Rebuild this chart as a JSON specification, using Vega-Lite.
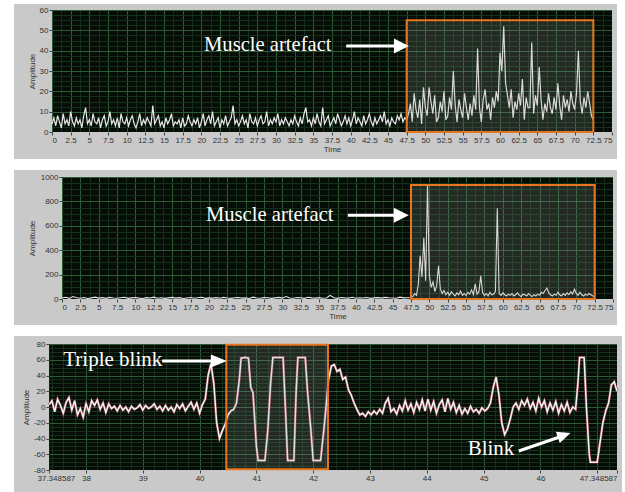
{
"$schema": "https://vega.github.io/schema/vega-lite/v6.json",
"background": "white",
"padding": {"left": 12, "top": 3, "right": 0, "bottom": 0},
"bounds": "full",
"spacing": 9,
"datasets": {
"top": [{"t":0,"a":4},{"t":0.25,"a":7},{"t":0.5,"a":3},{"t":0.75,"a":8},{"t":1,"a":5},{"t":1.25,"a":2},{"t":1.5,"a":9},{"t":1.75,"a":4},{"t":2,"a":6},{"t":2.25,"a":3},{"t":2.5,"a":10},{"t":2.75,"a":5},{"t":3,"a":3},{"t":3.25,"a":7},{"t":3.5,"a":4},{"t":3.75,"a":6},{"t":4,"a":2},{"t":4.25,"a":8},{"t":4.5,"a":12},{"t":4.75,"a":4},{"t":5,"a":6},{"t":5.25,"a":3},{"t":5.5,"a":9},{"t":5.75,"a":5},{"t":6,"a":4},{"t":6.25,"a":7},{"t":6.5,"a":2},{"t":6.75,"a":6},{"t":7,"a":8},{"t":7.25,"a":3},{"t":7.5,"a":5},{"t":7.75,"a":10},{"t":8,"a":4},{"t":8.25,"a":6},{"t":8.5,"a":3},{"t":8.75,"a":7},{"t":9,"a":2},{"t":9.25,"a":9},{"t":9.5,"a":5},{"t":9.75,"a":4},{"t":10,"a":7},{"t":10.25,"a":3},{"t":10.5,"a":6},{"t":10.75,"a":8},{"t":11,"a":4},{"t":11.25,"a":2},{"t":11.5,"a":5},{"t":11.75,"a":9},{"t":12,"a":3},{"t":12.25,"a":6},{"t":12.5,"a":4},{"t":12.75,"a":7},{"t":13,"a":5},{"t":13.25,"a":3},{"t":13.5,"a":13},{"t":13.75,"a":4},{"t":14,"a":6},{"t":14.25,"a":8},{"t":14.5,"a":3},{"t":14.75,"a":5},{"t":15,"a":2},{"t":15.25,"a":7},{"t":15.5,"a":4},{"t":15.75,"a":6},{"t":16,"a":9},{"t":16.25,"a":3},{"t":16.5,"a":5},{"t":16.75,"a":4},{"t":17,"a":6},{"t":17.25,"a":2},{"t":17.5,"a":7},{"t":17.75,"a":3},{"t":18,"a":4},{"t":18.25,"a":8},{"t":18.5,"a":5},{"t":18.75,"a":3},{"t":19,"a":6},{"t":19.25,"a":4},{"t":19.5,"a":7},{"t":19.75,"a":2},{"t":20,"a":5},{"t":20.25,"a":9},{"t":20.5,"a":3},{"t":20.75,"a":6},{"t":21,"a":8},{"t":21.25,"a":4},{"t":21.5,"a":10},{"t":21.75,"a":3},{"t":22,"a":5},{"t":22.25,"a":7},{"t":22.5,"a":2},{"t":22.75,"a":6},{"t":23,"a":4},{"t":23.25,"a":8},{"t":23.5,"a":3},{"t":23.75,"a":5},{"t":24,"a":7},{"t":24.25,"a":13},{"t":24.5,"a":4},{"t":24.75,"a":6},{"t":25,"a":3},{"t":25.25,"a":5},{"t":25.5,"a":8},{"t":25.75,"a":4},{"t":26,"a":6},{"t":26.25,"a":2},{"t":26.5,"a":9},{"t":26.75,"a":5},{"t":27,"a":4},{"t":27.25,"a":7},{"t":27.5,"a":3},{"t":27.75,"a":6},{"t":28,"a":8},{"t":28.25,"a":4},{"t":28.5,"a":5},{"t":28.75,"a":10},{"t":29,"a":3},{"t":29.25,"a":6},{"t":29.5,"a":4},{"t":29.75,"a":7},{"t":30,"a":5},{"t":30.25,"a":9},{"t":30.5,"a":3},{"t":30.75,"a":6},{"t":31,"a":4},{"t":31.25,"a":7},{"t":31.5,"a":5},{"t":31.75,"a":3},{"t":32,"a":6},{"t":32.25,"a":4},{"t":32.5,"a":8},{"t":32.75,"a":5},{"t":33,"a":3},{"t":33.25,"a":7},{"t":33.5,"a":4},{"t":33.75,"a":9},{"t":34,"a":12},{"t":34.25,"a":5},{"t":34.5,"a":6},{"t":34.75,"a":3},{"t":35,"a":7},{"t":35.25,"a":4},{"t":35.5,"a":9},{"t":35.75,"a":5},{"t":36,"a":3},{"t":36.25,"a":12},{"t":36.5,"a":4},{"t":36.75,"a":6},{"t":37,"a":8},{"t":37.25,"a":3},{"t":37.5,"a":5},{"t":37.75,"a":7},{"t":38,"a":4},{"t":38.25,"a":9},{"t":38.5,"a":6},{"t":38.75,"a":3},{"t":39,"a":5},{"t":39.25,"a":8},{"t":39.5,"a":4},{"t":39.75,"a":7},{"t":40,"a":3},{"t":40.25,"a":6},{"t":40.5,"a":10},{"t":40.75,"a":4},{"t":41,"a":7},{"t":41.25,"a":5},{"t":41.5,"a":3},{"t":41.75,"a":8},{"t":42,"a":4},{"t":42.25,"a":6},{"t":42.5,"a":9},{"t":42.75,"a":5},{"t":43,"a":3},{"t":43.25,"a":7},{"t":43.5,"a":4},{"t":43.75,"a":6},{"t":44,"a":8},{"t":44.25,"a":5},{"t":44.5,"a":10},{"t":44.75,"a":4},{"t":45,"a":6},{"t":45.25,"a":3},{"t":45.5,"a":7},{"t":45.75,"a":5},{"t":46,"a":4},{"t":46.25,"a":8},{"t":46.5,"a":6},{"t":46.75,"a":9},{"t":47,"a":5},{"t":47.25,"a":7},{"t":47.5,"a":6},{"t":47.75,"a":9},{"t":48,"a":14},{"t":48.25,"a":5},{"t":48.5,"a":19},{"t":48.75,"a":11},{"t":49,"a":7},{"t":49.25,"a":16},{"t":49.5,"a":4},{"t":49.75,"a":22},{"t":50,"a":12},{"t":50.25,"a":8},{"t":50.5,"a":22},{"t":50.75,"a":15},{"t":51,"a":9},{"t":51.25,"a":18},{"t":51.5,"a":5},{"t":51.75,"a":7},{"t":52,"a":15},{"t":52.25,"a":10},{"t":52.5,"a":20},{"t":52.75,"a":6},{"t":53,"a":8},{"t":53.25,"a":17},{"t":53.5,"a":11},{"t":53.75,"a":30},{"t":54,"a":13},{"t":54.25,"a":5},{"t":54.5,"a":16},{"t":54.75,"a":11},{"t":55,"a":7},{"t":55.25,"a":19},{"t":55.5,"a":12},{"t":55.75,"a":6},{"t":56,"a":14},{"t":56.25,"a":8},{"t":56.5,"a":18},{"t":56.75,"a":11},{"t":57,"a":41},{"t":57.25,"a":12},{"t":57.5,"a":5},{"t":57.75,"a":16},{"t":58,"a":21},{"t":58.25,"a":11},{"t":58.5,"a":14},{"t":58.75,"a":6},{"t":59,"a":17},{"t":59.25,"a":12},{"t":59.5,"a":20},{"t":59.75,"a":15},{"t":60,"a":39},{"t":60.25,"a":30},{"t":60.5,"a":52},{"t":60.75,"a":24},{"t":61,"a":18},{"t":61.25,"a":12},{"t":61.5,"a":21},{"t":61.75,"a":7},{"t":62,"a":15},{"t":62.25,"a":11},{"t":62.5,"a":19},{"t":62.75,"a":13},{"t":63,"a":26},{"t":63.25,"a":6},{"t":63.5,"a":17},{"t":63.75,"a":12},{"t":64,"a":12},{"t":64.25,"a":44},{"t":64.5,"a":9},{"t":64.75,"a":18},{"t":65,"a":13},{"t":65.25,"a":32},{"t":65.5,"a":16},{"t":65.75,"a":6},{"t":66,"a":14},{"t":66.25,"a":10},{"t":66.5,"a":19},{"t":66.75,"a":12},{"t":67,"a":9},{"t":67.25,"a":17},{"t":67.5,"a":11},{"t":67.75,"a":24},{"t":68,"a":13},{"t":68.25,"a":6},{"t":68.5,"a":18},{"t":68.75,"a":12},{"t":69,"a":16},{"t":69.25,"a":10},{"t":69.5,"a":20},{"t":69.75,"a":14},{"t":70,"a":11},{"t":70.25,"a":19},{"t":70.5,"a":40},{"t":70.75,"a":15},{"t":71,"a":9},{"t":71.25,"a":17},{"t":71.5,"a":12},{"t":71.75,"a":20},{"t":72,"a":14},{"t":72.25,"a":8},{"t":72.5,"a":6}],
"mid": [{"t":0,"a":8},{"t":0.5,"a":14},{"t":1,"a":5},{"t":1.5,"a":20},{"t":2,"a":10},{"t":2.5,"a":6},{"t":3,"a":12},{"t":3.5,"a":4},{"t":4,"a":9},{"t":4.5,"a":15},{"t":5,"a":7},{"t":5.5,"a":11},{"t":6,"a":5},{"t":6.5,"a":13},{"t":7,"a":8},{"t":7.5,"a":6},{"t":8,"a":10},{"t":8.5,"a":14},{"t":9,"a":5},{"t":9.5,"a":9},{"t":10,"a":12},{"t":10.5,"a":7},{"t":11,"a":4},{"t":11.5,"a":11},{"t":12,"a":8},{"t":12.5,"a":15},{"t":13,"a":6},{"t":13.5,"a":10},{"t":14,"a":5},{"t":14.5,"a":9},{"t":15,"a":13},{"t":15.5,"a":7},{"t":16,"a":11},{"t":16.5,"a":4},{"t":17,"a":8},{"t":17.5,"a":12},{"t":18,"a":6},{"t":18.5,"a":10},{"t":19,"a":14},{"t":19.5,"a":5},{"t":20,"a":9},{"t":20.5,"a":7},{"t":21,"a":11},{"t":21.5,"a":6},{"t":22,"a":13},{"t":22.5,"a":8},{"t":23,"a":5},{"t":23.5,"a":10},{"t":24,"a":12},{"t":24.5,"a":7},{"t":25,"a":9},{"t":25.5,"a":4},{"t":26,"a":15},{"t":26.5,"a":8},{"t":27,"a":6},{"t":27.5,"a":11},{"t":28,"a":10},{"t":28.5,"a":5},{"t":29,"a":9},{"t":29.5,"a":13},{"t":30,"a":7},{"t":30.5,"a":20},{"t":31,"a":8},{"t":31.5,"a":6},{"t":32,"a":12},{"t":32.5,"a":10},{"t":33,"a":5},{"t":33.5,"a":14},{"t":34,"a":9},{"t":34.5,"a":7},{"t":35,"a":11},{"t":35.5,"a":6},{"t":36,"a":8},{"t":36.5,"a":30},{"t":37,"a":10},{"t":37.5,"a":5},{"t":38,"a":12},{"t":38.5,"a":9},{"t":39,"a":7},{"t":39.5,"a":14},{"t":40,"a":6},{"t":40.5,"a":10},{"t":41,"a":8},{"t":41.5,"a":12},{"t":42,"a":5},{"t":42.5,"a":9},{"t":43,"a":11},{"t":43.5,"a":7},{"t":44,"a":13},{"t":44.5,"a":10},{"t":45,"a":8},{"t":45.5,"a":6},{"t":46,"a":15},{"t":46.5,"a":9},{"t":47,"a":10},{"t":47.5,"a":12},{"t":47.75,"a":20},{"t":48,"a":45},{"t":48.25,"a":30},{"t":48.5,"a":120},{"t":48.75,"a":355},{"t":49,"a":180},{"t":49.25,"a":504},{"t":49.5,"a":150},{"t":49.75,"a":934},{"t":50,"a":190},{"t":50.25,"a":95},{"t":50.5,"a":140},{"t":50.75,"a":60},{"t":51,"a":110},{"t":51.25,"a":273},{"t":51.5,"a":80},{"t":51.75,"a":45},{"t":52,"a":70},{"t":52.25,"a":35},{"t":52.5,"a":55},{"t":52.75,"a":30},{"t":53,"a":60},{"t":53.25,"a":40},{"t":53.5,"a":25},{"t":53.75,"a":50},{"t":54,"a":35},{"t":54.25,"a":65},{"t":54.5,"a":30},{"t":54.75,"a":45},{"t":55,"a":28},{"t":55.25,"a":55},{"t":55.5,"a":40},{"t":55.75,"a":75},{"t":56,"a":35},{"t":56.25,"a":124},{"t":56.5,"a":40},{"t":56.75,"a":60},{"t":57,"a":190},{"t":57.25,"a":50},{"t":57.5,"a":30},{"t":57.75,"a":45},{"t":58,"a":25},{"t":58.25,"a":55},{"t":58.5,"a":35},{"t":58.75,"a":40},{"t":59,"a":60},{"t":59.25,"a":744},{"t":59.5,"a":45},{"t":59.75,"a":30},{"t":60,"a":50},{"t":60.25,"a":35},{"t":60.5,"a":25},{"t":60.75,"a":40},{"t":61,"a":30},{"t":61.25,"a":45},{"t":61.5,"a":25},{"t":61.75,"a":35},{"t":62,"a":50},{"t":62.25,"a":30},{"t":62.5,"a":20},{"t":62.75,"a":40},{"t":63,"a":35},{"t":63.25,"a":25},{"t":63.5,"a":45},{"t":63.75,"a":30},{"t":64,"a":20},{"t":64.25,"a":35},{"t":64.5,"a":25},{"t":64.75,"a":40},{"t":65,"a":30},{"t":65.25,"a":55},{"t":65.5,"a":45},{"t":65.75,"a":70},{"t":66,"a":90},{"t":66.25,"a":50},{"t":66.5,"a":35},{"t":66.75,"a":25},{"t":67,"a":40},{"t":67.25,"a":30},{"t":67.5,"a":55},{"t":67.75,"a":35},{"t":68,"a":25},{"t":68.25,"a":45},{"t":68.5,"a":30},{"t":68.75,"a":50},{"t":69,"a":35},{"t":69.25,"a":60},{"t":69.5,"a":40},{"t":69.75,"a":80},{"t":70,"a":45},{"t":70.25,"a":30},{"t":70.5,"a":55},{"t":70.75,"a":35},{"t":71,"a":25},{"t":71.25,"a":40},{"t":71.5,"a":30},{"t":71.75,"a":45},{"t":72,"a":35},{"t":72.25,"a":25},{"t":72.5,"a":20}],
"eog": [{"t":37.348587,"a":3},{"t":37.4,"a":8},{"t":37.45,"a":-6},{"t":37.5,"a":10},{"t":37.55,"a":2},{"t":37.6,"a":-8},{"t":37.65,"a":6},{"t":37.7,"a":12},{"t":37.75,"a":-4},{"t":37.8,"a":8},{"t":37.85,"a":-10},{"t":37.9,"a":-2},{"t":37.95,"a":-13},{"t":38,"a":4},{"t":38.05,"a":-6},{"t":38.1,"a":8},{"t":38.15,"a":2},{"t":38.2,"a":9},{"t":38.25,"a":-3},{"t":38.3,"a":5},{"t":38.35,"a":-7},{"t":38.4,"a":4},{"t":38.45,"a":-2},{"t":38.5,"a":1},{"t":38.55,"a":-5},{"t":38.6,"a":2},{"t":38.65,"a":-4},{"t":38.7,"a":0},{"t":38.75,"a":-6},{"t":38.8,"a":1},{"t":38.85,"a":-3},{"t":38.9,"a":-1},{"t":38.95,"a":3},{"t":39,"a":-4},{"t":39.05,"a":2},{"t":39.1,"a":-2},{"t":39.15,"a":0},{"t":39.2,"a":4},{"t":39.25,"a":-3},{"t":39.3,"a":1},{"t":39.35,"a":-5},{"t":39.4,"a":2},{"t":39.45,"a":-4},{"t":39.5,"a":0},{"t":39.55,"a":-6},{"t":39.6,"a":3},{"t":39.65,"a":-2},{"t":39.7,"a":4},{"t":39.75,"a":-5},{"t":39.8,"a":1},{"t":39.85,"a":6},{"t":39.9,"a":-3},{"t":39.95,"a":5},{"t":40,"a":-8},{"t":40.05,"a":3},{"t":40.1,"a":10},{"t":40.15,"a":40},{"t":40.2,"a":55},{"t":40.25,"a":30},{"t":40.3,"a":-20},{"t":40.35,"a":-40},{"t":40.4,"a":-30},{"t":40.45,"a":-22},{"t":40.5,"a":-10},{"t":40.55,"a":-5},{"t":40.6,"a":-3},{"t":40.65,"a":5},{"t":40.7,"a":35},{"t":40.73,"a":62},{"t":40.8,"a":63},{"t":40.86,"a":62},{"t":40.9,"a":25},{"t":40.94,"a":18},{"t":41,"a":-50},{"t":41.03,"a":-68},{"t":41.15,"a":-68},{"t":41.2,"a":-30},{"t":41.25,"a":30},{"t":41.29,"a":63},{"t":41.47,"a":63},{"t":41.51,"a":0},{"t":41.55,"a":-68},{"t":41.66,"a":-68},{"t":41.7,"a":20},{"t":41.73,"a":63},{"t":41.86,"a":63},{"t":41.9,"a":20},{"t":41.96,"a":-30},{"t":42,"a":-68},{"t":42.13,"a":-68},{"t":42.2,"a":-20},{"t":42.27,"a":35},{"t":42.32,"a":52},{"t":42.37,"a":54},{"t":42.42,"a":45},{"t":42.47,"a":48},{"t":42.52,"a":35},{"t":42.57,"a":38},{"t":42.62,"a":22},{"t":42.67,"a":15},{"t":42.72,"a":5},{"t":42.77,"a":-3},{"t":42.82,"a":-10},{"t":42.87,"a":-8},{"t":42.92,"a":-12},{"t":42.97,"a":-6},{"t":43.02,"a":-10},{"t":43.07,"a":-5},{"t":43.12,"a":-9},{"t":43.17,"a":-3},{"t":43.22,"a":-8},{"t":43.27,"a":5},{"t":43.32,"a":11},{"t":43.37,"a":-6},{"t":43.42,"a":-2},{"t":43.47,"a":-9},{"t":43.52,"a":2},{"t":43.57,"a":-5},{"t":43.62,"a":8},{"t":43.67,"a":-4},{"t":43.72,"a":4},{"t":43.77,"a":-7},{"t":43.82,"a":6},{"t":43.87,"a":-3},{"t":43.92,"a":9},{"t":43.97,"a":-5},{"t":44.02,"a":10},{"t":44.07,"a":-4},{"t":44.12,"a":7},{"t":44.17,"a":-8},{"t":44.22,"a":3},{"t":44.27,"a":9},{"t":44.32,"a":-6},{"t":44.37,"a":11},{"t":44.42,"a":-3},{"t":44.47,"a":6},{"t":44.52,"a":-7},{"t":44.57,"a":2},{"t":44.62,"a":-9},{"t":44.67,"a":-2},{"t":44.72,"a":-8},{"t":44.77,"a":1},{"t":44.82,"a":-6},{"t":44.87,"a":-3},{"t":44.92,"a":-8},{"t":44.97,"a":-1},{"t":45.02,"a":-5},{"t":45.07,"a":-2},{"t":45.12,"a":5},{"t":45.17,"a":25},{"t":45.22,"a":38},{"t":45.27,"a":15},{"t":45.32,"a":-20},{"t":45.37,"a":-35},{"t":45.42,"a":-28},{"t":45.47,"a":-15},{"t":45.52,"a":0},{"t":45.57,"a":5},{"t":45.62,"a":-3},{"t":45.67,"a":8},{"t":45.72,"a":2},{"t":45.77,"a":10},{"t":45.82,"a":-2},{"t":45.87,"a":6},{"t":45.92,"a":-5},{"t":45.97,"a":11},{"t":46.02,"a":0},{"t":46.07,"a":8},{"t":46.12,"a":-6},{"t":46.17,"a":5},{"t":46.22,"a":-4},{"t":46.27,"a":7},{"t":46.32,"a":-8},{"t":46.37,"a":3},{"t":46.42,"a":-5},{"t":46.47,"a":6},{"t":46.52,"a":-7},{"t":46.57,"a":0},{"t":46.62,"a":-3},{"t":46.66,"a":30},{"t":46.69,"a":63},{"t":46.77,"a":63},{"t":46.81,"a":0},{"t":46.86,"a":-60},{"t":46.88,"a":-70},{"t":47,"a":-70},{"t":47.05,"a":-45},{"t":47.1,"a":-20},{"t":47.15,"a":-5},{"t":47.2,"a":5},{"t":47.25,"a":28},{"t":47.3,"a":32},{"t":47.348587,"a":20}]
},
"vconcat": [
{"spacing": 0, "hconcat": [
{"width": 1, "height": 1, "data": {"values": [{}]}, "mark": {"type": "point", "size": 0, "opacity": 0}, "view": {"fill": null, "stroke": null}},
{
"width": 560, "height": 122,
"resolve": {"axis": {"x": "independent", "y": "independent"}},
"layer": [
{"data": {"values": [{}]}, "mark": {"type": "rect", "color": "#c9c9c9"},
 "encoding": {
  "x": {"datum": -5.09, "type": "quantitative", "scale": {"domain": [0, 75], "nice": false, "zero": false},
        "axis": {"orient": "bottom", "zindex": 1, "grid": false, "values": [0,2.5,5,7.5,10,12.5,15,17.5,20,22.5,25,27.5,30,32.5,35,37.5,40,42.5,45,47.5,50,52.5,55,57.5,60,62.5,65,67.5,70,72.5,75], "labelExpr": "datum.value + ''", "labelOverlap": false, "title": "Time", "titlePadding": 1}},
  "x2": {"datum": 0},
  "y": {"datum": -13.28, "type": "quantitative", "scale": {"domain": [0, 60], "nice": false, "zero": false},
        "axis": {"orient": "left", "zindex": 1, "grid": false, "values": [0,10,20,30,40,50,60], "labelExpr": "datum.value + ''", "labelOverlap": false, "title": "Amplitude", "titlePadding": 3}},
  "y2": {"datum": 62.95}}},
{"data": {"values": [{}]}, "mark": {"type": "rect", "color": "#c9c9c9"},
 "encoding": {"x": {"datum": 75, "type": "quantitative", "axis": null}, "x2": {"datum": 75.67}, "y": {"datum": -13.28, "type": "quantitative", "axis": null}, "y2": {"datum": 62.95}}},
{"data": {"values": [{}]}, "mark": {"type": "rect", "color": "#c9c9c9"},
 "encoding": {"x": {"datum": 0, "type": "quantitative", "axis": null}, "x2": {"datum": 75}, "y": {"datum": 60, "type": "quantitative", "axis": null}, "y2": {"datum": 62.95}}},
{"data": {"values": [{}]}, "mark": {"type": "rect", "color": "#c9c9c9"},
 "encoding": {"x": {"datum": 0, "type": "quantitative", "axis": null}, "x2": {"datum": 75}, "y": {"datum": -13.28, "type": "quantitative", "axis": null}, "y2": {"datum": 0}}},
{"data": {"name": "top"}, "mark": {"type": "line", "color": "#e8e8e8", "strokeWidth": 1.2},
 "encoding": {
  "x": {"field": "t", "type": "quantitative",
        "axis": {"orient": "bottom", "zindex": 0, "grid": true, "labels": false, "ticks": false, "domain": false, "title": null, "gridWidth": 1,
                 "values": [0,1.25,2.5,3.75,5,6.25,7.5,8.75,10,11.25,12.5,13.75,15,16.25,17.5,18.75,20,21.25,22.5,23.75,25,26.25,27.5,28.75,30,31.25,32.5,33.75,35,36.25,37.5,38.75,40,41.25,42.5,43.75,45,46.25,47.5,48.75,50,51.25,52.5,53.75,55,56.25,57.5,58.75,60,61.25,62.5,63.75,65,66.25,67.5,68.75,70,71.25,72.5,73.75,75],
                 "gridColor": {"condition": {"test": "datum.value % 2.5 === 0", "value": "#2f5a36"}, "value": "#15301a"}}},
  "y": {"field": "a", "type": "quantitative",
        "axis": {"orient": "left", "zindex": 0, "grid": true, "labels": false, "ticks": false, "domain": false, "title": null, "gridWidth": 1,
                 "values": [0,2.5,5,7.5,10,12.5,15,17.5,20,22.5,25,27.5,30,32.5,35,37.5,40,42.5,45,47.5,50,52.5,55,57.5,60],
                 "gridColor": {"condition": {"test": "datum.value % 10 === 0", "value": "#2f5a36"}, "value": "#15301a"}}}}},
{"data": {"values": [{}]}, "mark": {"type": "rect", "fill": "#9a9a9a", "fillOpacity": 0.2, "stroke": "#e8761e", "strokeWidth": 2},
 "encoding": {"x": {"datum": 47.5, "type": "quantitative", "axis": null}, "x2": {"datum": 72.5}, "y": {"datum": 0, "type": "quantitative", "axis": null}, "y2": {"datum": 55}}},
{"data": {"values": [{}]}, "mark": {"type": "text", "text": "Muscle artefact", "font": "Liberation Serif", "fontSize": 20.6, "fill": "white", "align": "left", "baseline": "middle"},
 "encoding": {"x": {"datum": 20.36, "type": "quantitative", "axis": null}, "y": {"datum": 42.6, "type": "quantitative", "axis": null}}},
{"data": {"values": [{}]}, "mark": {"type": "rule", "color": "white", "strokeWidth": 3},
 "encoding": {"x": {"datum": 39.4, "type": "quantitative", "axis": null}, "x2": {"datum": 47.2}, "y": {"datum": 42.3, "type": "quantitative", "axis": null}, "y2": {"datum": 42.3}}},
{"data": {"values": [{}]}, "mark": {"type": "point", "shape": "M0,0L-2,-1L-2,1Z", "filled": true, "size": 225, "color": "white", "opacity": 1},
 "encoding": {"x": {"datum": 47.8, "type": "quantitative", "axis": null}, "y": {"datum": 42.3, "type": "quantitative", "axis": null}}}
]
}]},
{"spacing": 0, "hconcat": [
{"width": 1, "height": 1, "data": {"values": [{}]}, "mark": {"type": "point", "size": 0, "opacity": 0}, "view": {"fill": null, "stroke": null}},
{
"width": 551, "height": 122,
"resolve": {"axis": {"x": "independent", "y": "independent"}},
"layer": [
{"data": {"values": [{}]}, "mark": {"type": "rect", "color": "#c9c9c9"},
 "encoding": {
  "x": {"datum": -6.53, "type": "quantitative", "scale": {"domain": [0, 75], "nice": false, "zero": false},
        "axis": {"orient": "bottom", "zindex": 1, "grid": false, "values": [0,2.5,5,7.5,10,12.5,15,17.5,20,22.5,25,27.5,30,32.5,35,37.5,40,42.5,45,47.5,50,52.5,55,57.5,60,62.5,65,67.5,70,72.5,75], "labelExpr": "datum.value + ''", "labelOverlap": false, "title": "Time", "titlePadding": 1}},
  "x2": {"datum": 0},
  "y": {"datum": -213, "type": "quantitative", "scale": {"domain": [0, 1000], "nice": false, "zero": false},
        "axis": {"orient": "left", "zindex": 1, "grid": false, "values": [0,200,400,600,800,1000], "labelExpr": "datum.value + ''", "labelOverlap": false, "title": "Amplitude", "titlePadding": 4}},
  "y2": {"datum": 1057}}},
{"data": {"values": [{}]}, "mark": {"type": "rect", "color": "#c9c9c9"},
 "encoding": {"x": {"datum": 75, "type": "quantitative", "axis": null}, "x2": {"datum": 75.54}, "y": {"datum": -213, "type": "quantitative", "axis": null}, "y2": {"datum": 1057}}},
{"data": {"values": [{}]}, "mark": {"type": "rect", "color": "#c9c9c9"},
 "encoding": {"x": {"datum": 0, "type": "quantitative", "axis": null}, "x2": {"datum": 75}, "y": {"datum": 1000, "type": "quantitative", "axis": null}, "y2": {"datum": 1057}}},
{"data": {"values": [{}]}, "mark": {"type": "rect", "color": "#c9c9c9"},
 "encoding": {"x": {"datum": 0, "type": "quantitative", "axis": null}, "x2": {"datum": 75}, "y": {"datum": -213, "type": "quantitative", "axis": null}, "y2": {"datum": 0}}},
{"data": {"name": "mid"}, "mark": {"type": "line", "color": "#e8e8e8", "strokeWidth": 1.1},
 "encoding": {
  "x": {"field": "t", "type": "quantitative",
        "axis": {"orient": "bottom", "zindex": 0, "grid": true, "labels": false, "ticks": false, "domain": false, "title": null, "gridWidth": 1,
                 "values": [0,1.25,2.5,3.75,5,6.25,7.5,8.75,10,11.25,12.5,13.75,15,16.25,17.5,18.75,20,21.25,22.5,23.75,25,26.25,27.5,28.75,30,31.25,32.5,33.75,35,36.25,37.5,38.75,40,41.25,42.5,43.75,45,46.25,47.5,48.75,50,51.25,52.5,53.75,55,56.25,57.5,58.75,60,61.25,62.5,63.75,65,66.25,67.5,68.75,70,71.25,72.5,73.75,75],
                 "gridColor": {"condition": {"test": "datum.value % 2.5 === 0", "value": "#2f5a36"}, "value": "#15301a"}}},
  "y": {"field": "a", "type": "quantitative",
        "axis": {"orient": "left", "zindex": 0, "grid": true, "labels": false, "ticks": false, "domain": false, "title": null, "gridWidth": 1,
                 "values": [0,50,100,150,200,250,300,350,400,450,500,550,600,650,700,750,800,850,900,950,1000],
                 "gridColor": {"condition": {"test": "datum.value % 200 === 0", "value": "#2f5a36"}, "value": "#15301a"}}}}},
{"data": {"values": [{}]}, "mark": {"type": "rect", "fill": "#9a9a9a", "fillOpacity": 0.2, "stroke": "#e8761e", "strokeWidth": 2},
 "encoding": {"x": {"datum": 47.5, "type": "quantitative", "axis": null}, "x2": {"datum": 72.5}, "y": {"datum": 0, "type": "quantitative", "axis": null}, "y2": {"datum": 934}}},
{"data": {"values": [{}]}, "mark": {"type": "text", "text": "Muscle artefact", "font": "Liberation Serif", "fontSize": 20.6, "fill": "white", "align": "left", "baseline": "middle"},
 "encoding": {"x": {"datum": 19.6, "type": "quantitative", "axis": null}, "y": {"datum": 690, "type": "quantitative", "axis": null}}},
{"data": {"values": [{}]}, "mark": {"type": "rule", "color": "white", "strokeWidth": 3},
 "encoding": {"x": {"datum": 38.9, "type": "quantitative", "axis": null}, "x2": {"datum": 46.6}, "y": {"datum": 686, "type": "quantitative", "axis": null}, "y2": {"datum": 686}}},
{"data": {"values": [{}]}, "mark": {"type": "point", "shape": "M0,0L-2,-1L-2,1Z", "filled": true, "size": 225, "color": "white", "opacity": 1},
 "encoding": {"x": {"datum": 47.2, "type": "quantitative", "axis": null}, "y": {"datum": 686, "type": "quantitative", "axis": null}}}
]
}]},
{"spacing": 0, "hconcat": [
{"width": 1, "height": 1, "data": {"values": [{}]}, "mark": {"type": "point", "size": 0, "opacity": 0}, "view": {"fill": null, "stroke": null}},
{
"width": 568, "height": 126,
"resolve": {"axis": {"x": "independent", "y": "independent"}},
"layer": [
{"data": {"values": [{}]}, "mark": {"type": "rect", "color": "#c9c9c9"},
 "encoding": {
  "x": {"datum": 36.7326, "type": "quantitative", "scale": {"domain": [37.348587, 47.348587], "nice": false, "zero": false},
        "axis": {"orient": "bottom", "zindex": 1, "grid": false, "values": [37.348587,38,39,40,41,42,43,44,45,46,47,47.348587], "labelExpr": "datum.value == 47 ? '' : datum.value + ''", "labelOverlap": false, "title": null,
                 "labelOffset": {"condition": {"test": "datum.value < 37.5", "value": -12}, "value": 0}}},
  "x2": {"datum": 37.348587},
  "y": {"datum": -112, "type": "quantitative", "scale": {"domain": [-80, 80], "nice": false, "zero": false},
        "axis": {"orient": "left", "zindex": 1, "grid": false, "values": [-80,-60,-40,-20,0,20,40,60,80], "labelExpr": "datum.value + ''", "labelOverlap": false, "title": "Amplitude", "titlePadding": 3}},
  "y2": {"datum": 90.16}}},
{"data": {"values": [{}]}, "mark": {"type": "rect", "color": "#c9c9c9"},
 "encoding": {"x": {"datum": 47.348587, "type": "quantitative", "axis": null}, "x2": {"datum": 47.4366}, "y": {"datum": -112, "type": "quantitative", "axis": null}, "y2": {"datum": 90.16}}},
{"data": {"values": [{}]}, "mark": {"type": "rect", "color": "#c9c9c9"},
 "encoding": {"x": {"datum": 37.348587, "type": "quantitative", "axis": null}, "x2": {"datum": 47.348587}, "y": {"datum": 80, "type": "quantitative", "axis": null}, "y2": {"datum": 90.16}}},
{"data": {"values": [{}]}, "mark": {"type": "rect", "color": "#c9c9c9"},
 "encoding": {"x": {"datum": 37.348587, "type": "quantitative", "axis": null}, "x2": {"datum": 47.348587}, "y": {"datum": -112, "type": "quantitative", "axis": null}, "y2": {"datum": -80}}},
{"data": {"name": "eog"}, "mark": {"type": "line", "color": "#8a3a4a", "strokeWidth": 2.6},
 "encoding": {
  "x": {"field": "t", "type": "quantitative",
        "axis": {"orient": "bottom", "zindex": 0, "grid": true, "labels": false, "ticks": false, "domain": false, "title": null, "gridWidth": 1,
                 "values": [37.4,37.6,37.8,38,38.2,38.4,38.6,38.8,39,39.2,39.4,39.6,39.8,40,40.2,40.4,40.6,40.8,41,41.2,41.4,41.6,41.8,42,42.2,42.4,42.6,42.8,43,43.2,43.4,43.6,43.8,44,44.2,44.4,44.6,44.8,45,45.2,45.4,45.6,45.8,46,46.2,46.4,46.6,46.8,47,47.2],
                 "gridColor": {"condition": {"test": "abs(datum.value - round(datum.value)) < 0.01", "value": "#2f5a36"}, "value": "#15301a"}}},
  "y": {"field": "a", "type": "quantitative",
        "axis": {"orient": "left", "zindex": 0, "grid": true, "labels": false, "ticks": false, "domain": false, "title": null, "gridWidth": 1,
                 "values": [-80,-75,-70,-65,-60,-55,-50,-45,-40,-35,-30,-25,-20,-15,-10,-5,0,5,10,15,20,25,30,35,40,45,50,55,60,65,70,75,80],
                 "gridColor": {"condition": {"test": "datum.value % 20 === 0", "value": "#2f5a36"}, "value": "#15301a"}}}}},
{"data": {"name": "eog"}, "mark": {"type": "line", "color": "#f2f2f2", "strokeWidth": 1.5},
 "encoding": {"x": {"field": "t", "type": "quantitative", "axis": null}, "y": {"field": "a", "type": "quantitative", "axis": null}}},
{"data": {"values": [{}]}, "mark": {"type": "rect", "fill": "#9a9a9a", "fillOpacity": 0.2, "stroke": "#e8761e", "strokeWidth": 2},
 "encoding": {"x": {"datum": 40.47, "type": "quantitative", "axis": null}, "x2": {"datum": 42.26}, "y": {"datum": -79, "type": "quantitative", "axis": null}, "y2": {"datum": 79}}},
{"data": {"values": [{}]}, "mark": {"type": "text", "text": "Triple blink", "font": "Liberation Serif", "fontSize": 21, "fill": "white", "align": "left", "baseline": "middle"},
 "encoding": {"x": {"datum": 37.6, "type": "quantitative", "axis": null}, "y": {"datum": 59.7, "type": "quantitative", "axis": null}}},
{"data": {"values": [{}]}, "mark": {"type": "rule", "color": "white", "strokeWidth": 3},
 "encoding": {"x": {"datum": 39.34, "type": "quantitative", "axis": null}, "x2": {"datum": 40.25}, "y": {"datum": 58.4, "type": "quantitative", "axis": null}, "y2": {"datum": 58.4}}},
{"data": {"values": [{}]}, "mark": {"type": "point", "shape": "M0,0L-2,-0.8L-2,0.8Z", "filled": true, "size": 256, "color": "white", "opacity": 1},
 "encoding": {"x": {"datum": 40.48, "type": "quantitative", "axis": null}, "y": {"datum": 58.4, "type": "quantitative", "axis": null}}},
{"data": {"values": [{}]}, "mark": {"type": "text", "text": "Blink", "font": "Liberation Serif", "fontSize": 21, "fill": "white", "align": "left", "baseline": "middle"},
 "encoding": {"x": {"datum": 44.72, "type": "quantitative", "axis": null}, "y": {"datum": -53.3, "type": "quantitative", "axis": null}}},
{"data": {"values": [{}]}, "mark": {"type": "rule", "color": "white", "strokeWidth": 3},
 "encoding": {"x": {"datum": 45.62, "type": "quantitative", "axis": null}, "x2": {"datum": 46.4}, "y": {"datum": -55.9, "type": "quantitative", "axis": null}, "y2": {"datum": -36.5}}},
{"data": {"values": [{}]}, "mark": {"type": "point", "shape": "M0,0L-2,-0.9L-2,0.9Z", "filled": true, "size": 180, "color": "white", "opacity": 1, "angle": -19},
 "encoding": {"x": {"datum": 46.53, "type": "quantitative", "axis": null}, "y": {"datum": -33, "type": "quantitative", "axis": null}}}
]
}]}
],
"config": {
 "view": {"fill": "#050d06", "stroke": "#1a1a1a"},
 "axis": {"labelFont": "Liberation Sans", "labelFontSize": 8, "labelColor": "#333333", "labelPadding": 1,
          "titleFont": "Liberation Sans", "titleFontSize": 8, "titleFontWeight": "normal", "titleColor": "#333333",
          "tickColor": "#444444", "tickSize": 3, "domain": false}
}
}
